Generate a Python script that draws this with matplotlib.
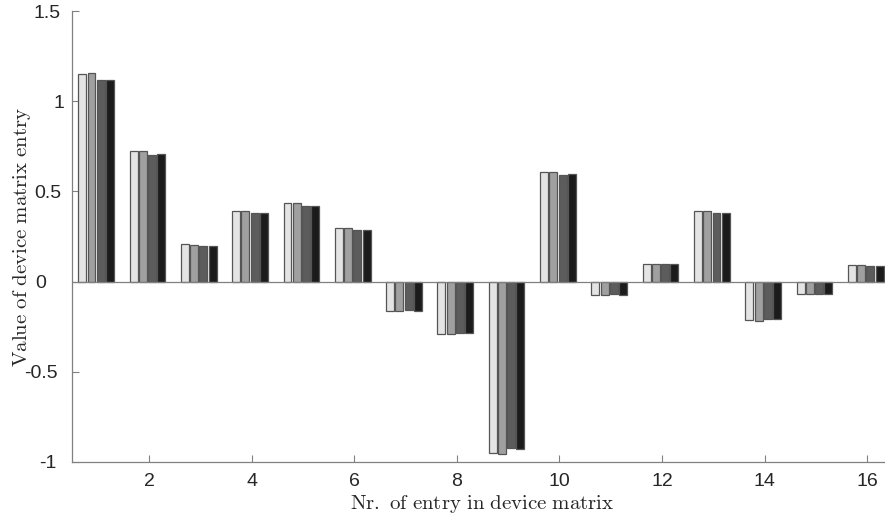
import numpy as np
import matplotlib
matplotlib.use("Agg")
import matplotlib.pyplot as plt
from matplotlib.transforms import ScaledTranslation

plt.rcParams["mathtext.fontset"] = "cm"
plt.rcParams["font.family"] = ["Liberation Sans", "DejaVu Sans"]

entries = np.arange(1, 17)
series_a = [1.153, 0.726, 0.206, 0.390, 0.435, 0.295, -0.163, -0.290, -0.948, 0.607, -0.075, 0.100, 0.390, -0.215, -0.066, 0.093]
series_b = [1.156, 0.726, 0.204, 0.390, 0.435, 0.295, -0.163, -0.293, -0.954, 0.607, -0.075, 0.097, 0.390, -0.218, -0.066, 0.090]
series_c = [1.119, 0.704, 0.200, 0.380, 0.420, 0.285, -0.157, -0.283, -0.924, 0.593, -0.070, 0.095, 0.380, -0.210, -0.066, 0.087]
series_d = [1.119, 0.707, 0.196, 0.380, 0.420, 0.285, -0.163, -0.287, -0.930, 0.598, -0.075, 0.097, 0.383, -0.210, -0.066, 0.087]

series = [series_a, series_b, series_c, series_d]
colors = ["#e4e4e4", "#a0a0a0", "#5c5c5c", "#1b1b1b"]

y_ticks = [-1, -0.5, 0, 0.5, 1, 1.5]
y_tick_labels = ["-1", "-0.5", "0", "0.5", "1", "1.5"]
# horizontal nudges of the y tick labels, in pixels
y_label_nudge = [-4, -3, -15, 0, 3, 0]

fig = plt.figure(figsize=(8.85, 5.15), dpi=100)
ax = fig.add_axes([72 / 885, 53 / 515, 821 / 885, 451 / 515])

step = 0.18
width = 0.155
offsets = (np.arange(4) - 1.5) * step - 0.03
for vals, off, col in zip(series, offsets, colors):
    ax.bar(entries + off, vals, width=width, color=col,
           edgecolor="#555555", linewidth=0.9, zorder=2)

ax.axhline(0, color="#808080", linewidth=0.9, zorder=3)

ax.set_xlim(0.5, 16.5)
ax.set_ylim(-1, 1.5)
ax.set_xticks(np.arange(2, 17, 2))
ax.set_yticks(y_ticks)
ax.set_yticklabels(y_tick_labels)

for side in ("top", "right"):
    ax.spines[side].set_visible(False)
for side in ("left", "bottom"):
    ax.spines[side].set_color("#808080")
    ax.spines[side].set_linewidth(0.9)

ax.tick_params(direction="in", length=5, width=0.8, color="#808080",
               labelsize=14, labelcolor="#262626", pad=8)

for lab, dx in zip(ax.get_yticklabels(), y_label_nudge):
    lab.set_transform(lab.get_transform() + ScaledTranslation(dx / 100, 0, fig.dpi_scale_trans))

ax.set_xlabel(r"$\mathrm{Nr.\ of\ entry\ in\ device\ matrix}$",
              fontsize=15, color="#262626")
ax.set_ylabel(r"$\mathrm{Value\ of\ device\ matrix\ entry}$",
              fontsize=15, color="#262626")
ax.xaxis.set_label_coords(0.5, -0.068)
ax.yaxis.set_label_coords(-0.047, 0.5)

fig.savefig("out.png", dpi=100)
